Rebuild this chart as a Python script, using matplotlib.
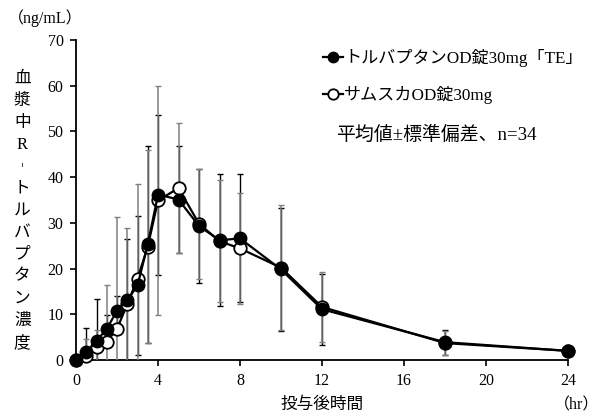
import numpy as np
import matplotlib.pyplot as plt
from matplotlib.lines import Line2D

plt.rcParams['font.family'] = ['Liberation Serif', 'Noto Sans CJK JP', 'DejaVu Sans']

hours = [0, 0.5, 1, 1.5, 2, 2.5, 3, 3.5, 4, 5, 6, 7, 8, 10, 12, 18, 24]
te_mean = [0, 1.7, 4.2, 6.8, 10.8, 13.1, 16.3, 25.3, 36.2, 35.1, 29.3, 26.2, 26.6, 19.8, 11.1, 3.9, 2.0]
te_sd = [0, 5.2, 9.1, 3.0, 3.1, 13.4, 15.2, 21.5, 17.5, 11.8, 12.4, 14.4, 14.0, 13.5, 7.8, 2.7, 1.2]
ref_mean = [0, 0.9, 2.9, 4.0, 6.8, 12.2, 17.8, 24.8, 34.9, 37.6, 29.8, 26.0, 24.4, 20.2, 11.6, 3.7, 2.0]
ref_sd = [0, 3.8, 3.7, 12.4, 24.4, 16.7, 20.8, 21.1, 25.0, 14.3, 12.0, 13.4, 12.1, 13.6, 7.6, 2.6, 1.1]

te_label = 'トルバプタンOD錠30mg「TE」'
ref_label = 'サムスカOD錠30mg'
note = '平均値±標準偏差、n=34'
ylabel_chars = ['血', '漿', '中', 'R', '︲', 'ト', 'ル', 'バ', 'プ', 'タ', 'ン', '濃', '度']

fig = plt.figure(figsize=(6, 4.19), dpi=100)
ax = fig.add_axes([0.1267, 0.1408, 0.82, 0.7637])

# error bars: TE black underneath, reference gray on top
ax.errorbar(hours, te_mean, yerr=te_sd, fmt='none', ecolor='black',
            elinewidth=1.0, capsize=2.5, capthick=1.0, zorder=2)
ax.errorbar(hours, ref_mean, yerr=ref_sd, fmt='none', ecolor='#808080',
            elinewidth=1.1, capsize=2.5, capthick=1.0, zorder=3)

ax.plot(hours, ref_mean, color='black', lw=1.6, marker='o', ms=9,
        mfc='white', mec='black', mew=1.3, clip_on=False, zorder=4)
ax.plot(hours, te_mean, color='black', lw=1.6, marker='o', ms=9,
        mfc='black', mec='black', clip_on=False, zorder=5)

ax.set_xlim(0, 24)
ax.set_ylim(0, 70)
ax.set_xticks(range(0, 25, 4))
ax.set_yticks(range(0, 71, 10))
for s in ['top', 'right']:
    ax.spines[s].set_visible(False)
for s in ['left', 'bottom']:
    ax.spines[s].set_linewidth(1.3)
ax.tick_params(direction='out', length=4, width=1.2, labelsize=11.5, pad=5)

handles = [Line2D([], [], color='black', lw=1.6, marker='o', ms=7.5, mfc='black', mec='black'),
           Line2D([], [], color='black', lw=1.6, marker='o', ms=7.5, mfc='white', mec='black', mew=1.3)]
leg = ax.legend(handles, [te_label, ref_label], loc='upper left', bbox_to_anchor=(0.47, 1.02),
                frameon=False, handlelength=1.2, handletextpad=0.05, labelspacing=1.1,
                prop={'size': 12.3})
ax.text(0.528, 0.705, note, transform=ax.transAxes, fontsize=13.6, va='center', ha='left')

fig.text(0.075, 0.957, '（ng/mL）', fontsize=11.5, ha='center', va='center')
fig.text(0.998, 0.033, '（hr）', fontsize=11.5, ha='right', va='center')
fig.text(0.537, 0.033, '投与後時間', fontsize=12, ha='center', va='center')
fig.text(0.037, 0.497, '\n'.join(ylabel_chars), fontsize=12, ha='center', va='center',
         linespacing=1.5)

fig.savefig('out.png', dpi=100)
